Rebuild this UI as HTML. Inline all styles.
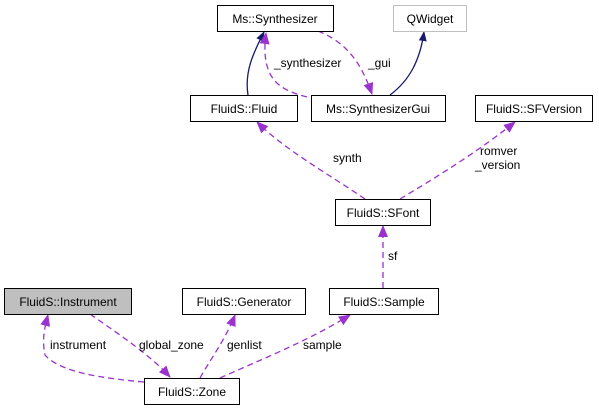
<!DOCTYPE html>
<html><head><style>
body{margin:0;background:#fff;}
svg text{font-family:"Liberation Sans",sans-serif;font-size:12px;fill:#000;}
</style></head><body>
<svg width="599" height="409" viewBox="0 0 599 409" xmlns="http://www.w3.org/2000/svg">
<defs>
<marker id="n" markerWidth="10" markerHeight="10" refX="9" refY="5" orient="auto" markerUnits="userSpaceOnUse"><path d="M0,1 L10,5 L0,9 Z" fill="#191970"/></marker>
<marker id="p" markerWidth="12" markerHeight="12" refX="11" refY="6" orient="auto" markerUnits="userSpaceOnUse"><path d="M0,1 L12,6 L0,11 Z" fill="#9a32cd"/></marker>
</defs>
<g fill="none" stroke-width="1.3">
<path d="M248,95 C244,70 255,50 264,32" stroke="#191970" marker-end="url(#n)"/>
<path d="M390,95 C410,80 420,60 424,32" stroke="#191970" marker-end="url(#n)"/>
<g stroke="#9a32cd" stroke-dasharray="6,4">
<path d="M318,31 C345,42 360,60 372,94" marker-end="url(#p)"/>
<path d="M307,97 C280,90 260,80 266,33" marker-end="url(#p)"/>
<path d="M365,199 C330,175 285,150 257,122" marker-end="url(#p)"/>
<path d="M400,199 C440,175 480,150 515,122" marker-end="url(#p)"/>
<path d="M383,288 L383,226" marker-end="url(#p)"/>
<path d="M220,378 C260,360 310,340 350,315" marker-end="url(#p)"/>
<path d="M200,378 C210,360 225,340 235,315" marker-end="url(#p)"/>
<path d="M90,314 C120,335 150,355 170,377" marker-end="url(#p)"/>
<path d="M144,382 C100,378 60,372 45,355 C42,340 44,330 48,315" marker-end="url(#p)"/>
</g>
</g>
<g stroke-width="1">
<rect x="217.5" y="5.5" width="116" height="26" fill="#fff" stroke="#000"/>
<rect x="393.5" y="5.5" width="73" height="26" fill="#fff" stroke="#bfbfbf"/>
<rect x="190.5" y="95.5" width="107" height="26" fill="#fff" stroke="#000"/>
<rect x="311.5" y="95.5" width="134" height="26" fill="#fff" stroke="#000"/>
<rect x="475.5" y="95.5" width="117" height="26" fill="#fff" stroke="#000"/>
<rect x="335.5" y="199.5" width="95" height="26" fill="#fff" stroke="#000"/>
<rect x="4.5" y="288.5" width="127" height="26" fill="#bfbfbf" stroke="#000"/>
<rect x="182.5" y="288.5" width="123" height="26" fill="#fff" stroke="#000"/>
<rect x="329.5" y="288.5" width="109" height="26" fill="#fff" stroke="#000"/>
<rect x="144.5" y="378.5" width="95" height="26" fill="#fff" stroke="#000"/>
</g>
<g text-anchor="middle">
<text x="275" y="23">Ms::Synthesizer</text>
<text x="430" y="23">QWidget</text>
<text x="244" y="113">FluidS::Fluid</text>
<text x="378" y="113">Ms::SynthesizerGui</text>
<text x="534" y="113">FluidS::SFVersion</text>
<text x="383" y="217">FluidS::SFont</text>
<text x="68" y="306">FluidS::Instrument</text>
<text x="244" y="306">FluidS::Generator</text>
<text x="384" y="306">FluidS::Sample</text>
<text x="192" y="396">FluidS::Zone</text>
</g>
<text x="274" y="67">_synthesizer</text>
<text x="368" y="67">_gui</text>
<text x="333" y="162">synth</text>
<text x="480" y="155">romver</text>
<text x="475" y="169">_version</text>
<text x="388" y="260">sf</text>
<text x="50" y="349">instrument</text>
<text x="139" y="349">global_zone</text>
<text x="227" y="349">genlist</text>
<text x="303" y="349">sample</text>
</svg>
</body></html>
